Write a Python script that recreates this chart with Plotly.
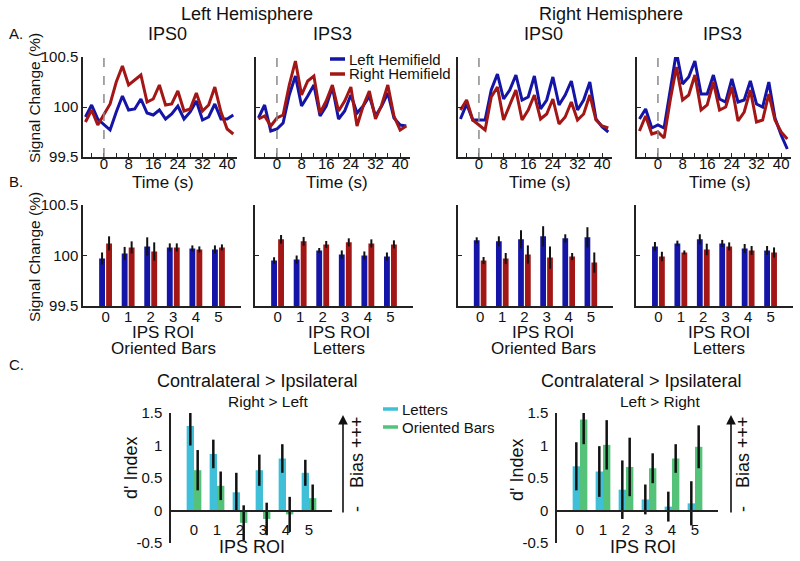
import plotly.graph_objects as go

# ---------------- data ----------------
time_s = [-6, -4, -2, 0, 2, 4, 6, 8, 10, 12, 14, 16, 18, 20, 22, 24, 26, 28, 30, 32, 34, 36, 38, 40, 42]
time_ticks = [-4, 0, 4, 8, 12, 16, 20, 24, 28, 32, 36, 40]
time_ticktext = ["", "0", "", "8", "", "16", "", "24", "", "32", "", "40"]

# Panel A: time courses (signal change %)
lh_ips0_left = [99.90, 100.02, 99.88, 99.82, 99.77, 99.95, 100.11, 99.97, 99.98, 100.08, 99.94, 99.92, 99.97,
                99.88, 99.93, 100.01, 99.88, 99.95, 100.06, 99.87, 99.90, 100.03, 99.88, 99.88, 99.92]
lh_ips0_right = [99.85, 99.97, 99.82, 99.93, 100.03, 100.25, 100.41, 100.22, 100.27, 100.32, 100.05, 100.08, 100.22,
                 100.02, 100.03, 100.16, 99.96, 99.98, 100.14, 99.96, 100.02, 100.20, 99.95, 99.78, 99.73]
lh_ips3_left = [99.89, 100.02, 99.76, 99.78, 99.84, 100.12, 100.31, 100.01, 100.11, 100.22, 99.91, 100.01, 100.20,
                99.88, 99.96, 100.12, 99.94, 100.01, 100.11, 99.91, 100.01, 100.14, 99.89, 99.82, 99.81]
lh_ips3_right = [99.88, 99.91, 99.81, 99.89, 99.92, 100.22, 100.46, 100.12, 100.26, 100.31, 99.94, 100.06, 100.22,
                 99.96, 100.06, 100.20, 99.81, 100.01, 100.16, 99.88, 100.02, 100.22, 99.91, 99.77, 99.81]
rh_ips0_left = [99.88, 100.03, 99.87, 99.87, 99.87, 100.17, 100.33, 100.08, 100.17, 100.32, 100.07, 100.10, 100.31,
                99.98, 100.07, 100.30, 100.02, 100.12, 100.26, 99.97, 100.07, 100.25, 99.88, 99.80, 99.75]
rh_ips0_right = [99.97, 100.07, 99.87, 99.82, 99.77, 100.10, 100.20, 99.87, 100.02, 100.17, 99.87, 99.97, 100.12,
                 99.88, 99.93, 100.08, 99.83, 99.90, 100.05, 99.87, 99.93, 100.12, 99.87, 99.81, 99.79]
rh_ips3_left = [99.88, 99.98, 99.79, 99.82, 99.79, 100.17, 100.55, 100.23, 100.30, 100.46, 100.13, 100.13, 100.32,
                100.08, 100.05, 100.28, 100.05, 100.07, 100.26, 100.03, 100.00, 100.25, 99.89, 99.72, 99.58]
rh_ips3_right = [99.76, 99.91, 99.73, 99.75, 99.69, 100.07, 100.40, 100.07, 100.12, 100.32, 99.97, 100.02, 100.25,
                 99.97, 100.00, 100.20, 99.86, 99.95, 100.17, 99.85, 99.87, 100.13, 99.87, 99.75, 99.68]

# Panel B: mean signal change per IPS ROI
roi = [0, 1, 2, 3, 4, 5]
lh_bars_left = [99.97, 100.02, 100.09, 100.08, 100.07, 100.06]
lh_bars_left_err = [0.06, 0.065, 0.09, 0.04, 0.03, 0.04]
lh_bars_right = [100.12, 100.08, 100.04, 100.08, 100.06, 100.08]
lh_bars_right_err = [0.07, 0.06, 0.09, 0.04, 0.03, 0.03]
lh_letters_left = [99.95, 99.96, 100.05, 100.01, 100.00, 99.99]
lh_letters_left_err = [0.033, 0.04, 0.024, 0.04, 0.04, 0.04]
lh_letters_right = [100.16, 100.14, 100.11, 100.13, 100.12, 100.11]
lh_letters_right_err = [0.043, 0.044, 0.034, 0.04, 0.04, 0.04]
rh_bars_left = [100.15, 100.14, 100.16, 100.19, 100.17, 100.18]
rh_bars_left_err = [0.03, 0.05, 0.09, 0.10, 0.04, 0.10]
rh_bars_right = [99.95, 99.97, 100.01, 99.98, 99.99, 99.93]
rh_bars_right_err = [0.035, 0.055, 0.09, 0.11, 0.035, 0.10]
rh_letters_left = [100.09, 100.12, 100.16, 100.12, 100.07, 100.05]
rh_letters_left_err = [0.044, 0.027, 0.05, 0.034, 0.044, 0.044]
rh_letters_right = [99.99, 100.03, 100.06, 100.09, 100.05, 100.03]
rh_letters_right_err = [0.047, 0.02, 0.057, 0.04, 0.044, 0.05]

# Panel C: d' index (contralateral > ipsilateral)
c_rl_letters = [1.30, 0.87, 0.28, 0.62, 0.80, 0.58]
c_rl_letters_err = [0.30, 0.22, 0.30, 0.24, 0.22, 0.20]
c_rl_bars = [0.62, 0.38, -0.19, -0.13, -0.06, 0.19]
c_rl_bars_err = [0.31, 0.22, 0.27, 0.25, 0.27, 0.21]
c_lr_letters = [0.68, 0.60, 0.32, 0.17, 0.06, 0.11]
c_lr_letters_err = [0.37, 0.39, 0.45, 0.23, 0.23, 0.34]
c_lr_bars = [1.40, 1.01, 0.67, 0.65, 0.80, 0.98]
c_lr_bars_err = [0.38, 0.38, 0.45, 0.23, 0.22, 0.33]

# ---------------- style ----------------
W, H = 800, 561
FONT = "Liberation Sans, Arial, Helvetica, sans-serif"
BLUE = "#1414a6"
RED = "#a31616"
CYAN = "#3fc0d8"
GREEN = "#55c27a"
AXC = "#222222"
TXT = "#111111"


def px(x):
    return x / W


def py(y):
    return 1 - y / H


fig = go.Figure()
layout = dict(
    width=W, height=H, margin=dict(l=0, r=0, t=0, b=0, pad=0, autoexpand=False),
    paper_bgcolor="white", plot_bgcolor="white", showlegend=False,
    font=dict(family=FONT, size=15, color=TXT),
)


def ax_name(i):
    return ("x" if i == 1 else f"x{i}"), ("y" if i == 1 else f"y{i}")


def key(prefix, i):
    return prefix if i == 1 else f"{prefix}{i}"


# ---------------- row A ----------------
a_x = [(83, 237), (256, 410), (458, 612), (637, 791)]
a_y = (57, 157)
a_data = [(lh_ips0_left, lh_ips0_right), (lh_ips3_left, lh_ips3_right),
          (rh_ips0_left, rh_ips0_right), (rh_ips3_left, rh_ips3_right)]
shapes = []
for k, (left, right) in enumerate(a_data):
    i = k + 1
    xa, ya = ax_name(i)
    fig.add_trace(go.Scatter(x=time_s, y=left, mode="lines", name="Left Hemifield",
                             line=dict(color=BLUE, width=3), xaxis=xa, yaxis=ya))
    fig.add_trace(go.Scatter(x=time_s, y=right, mode="lines", name="Right Hemifield",
                             line=dict(color=RED, width=3), xaxis=xa, yaxis=ya))
    layout[key("xaxis", i)] = dict(
        domain=[px(a_x[k][0]), px(a_x[k][1])], range=[-6.8, 43.2], anchor=ya, automargin=False,
        showline=True, linecolor=AXC, linewidth=1.5, ticks="inside", ticklen=4,
        tickcolor=AXC, tickvals=time_ticks, ticktext=time_ticktext, ticklabelstandoff=-8,
        showgrid=False, zeroline=False, tickfont=dict(size=15),
    )
    layout[key("yaxis", i)] = dict(
        domain=[py(a_y[1]), py(a_y[0])], range=[99.5, 100.5], anchor=xa, automargin=False,
        showline=True, linecolor=AXC, linewidth=1.5, ticks="inside", ticklen=4,
        tickcolor=AXC, tickvals=[99.5, 100, 100.5], ticktext=["99.5", "100", "100.5"],
        showticklabels=(i == 1), showgrid=False, zeroline=False, tickfont=dict(size=15),
    )
    shapes.append(dict(type="line", xref=xa, yref=f"{ya} domain", x0=0, x1=0, y0=0, y1=1,
                       line=dict(color="#8a8a8a", width=1.5, dash="dash")))

# ---------------- row B ----------------
b_x = [(83, 241), (255, 413), (458, 613), (636, 793)]
b_y = (205, 306)
b_data = [
    (lh_bars_left, lh_bars_left_err, lh_bars_right, lh_bars_right_err),
    (lh_letters_left, lh_letters_left_err, lh_letters_right, lh_letters_right_err),
    (rh_bars_left, rh_bars_left_err, rh_bars_right, rh_bars_right_err),
    (rh_letters_left, rh_letters_left_err, rh_letters_right, rh_letters_right_err),
]
for k, (bl, ble, br, bre) in enumerate(b_data):
    i = k + 5
    xa, ya = ax_name(i)
    fig.add_trace(go.Bar(x=roi, y=bl, width=0.26, offset=-0.285, marker=dict(color=BLUE, line=dict(width=0)),
                         error_y=dict(type="data", array=ble, color="#111", thickness=2, width=0),
                         xaxis=xa, yaxis=ya, name="Left Hemifield"))
    fig.add_trace(go.Bar(x=roi, y=br, width=0.26, offset=0.025, marker=dict(color=RED, line=dict(width=0)),
                         error_y=dict(type="data", array=bre, color="#111", thickness=2, width=0),
                         xaxis=xa, yaxis=ya, name="Right Hemifield"))
    layout[key("xaxis", i)] = dict(
        domain=[px(b_x[k][0]), px(b_x[k][1])], range=[-1, 6], anchor=ya, automargin=False,
        showline=True, linecolor=AXC, linewidth=1.5, ticks="", ticklabelstandoff=-4,
        tickvals=roi, showgrid=False, zeroline=False, tickfont=dict(size=15),
    )
    layout[key("yaxis", i)] = dict(
        domain=[py(b_y[1]), py(b_y[0])], range=[99.5, 100.5], anchor=xa, automargin=False,
        showline=True, linecolor=AXC, linewidth=1.5, ticks="inside", ticklen=4,
        tickcolor=AXC, tickvals=[99.5, 100, 100.5], ticktext=["99.5", "100", "100.5"],
        showticklabels=(i == 5), showgrid=False, zeroline=False, tickfont=dict(size=15),
    )

# ---------------- row C ----------------
c_x = [(171, 332), (557, 718)]
c_y = (413, 543)
c_data = [(c_rl_letters, c_rl_letters_err, c_rl_bars, c_rl_bars_err),
          (c_lr_letters, c_lr_letters_err, c_lr_bars, c_lr_bars_err)]
for k, (lt, lte, ob, obe) in enumerate(c_data):
    i = k + 9
    xa, ya = ax_name(i)
    fig.add_trace(go.Bar(x=roi, y=lt, width=0.32, offset=-0.32, marker=dict(color=CYAN, line=dict(width=0)),
                         error_y=dict(type="data", array=lte, color="#111", thickness=2.5, width=0),
                         xaxis=xa, yaxis=ya, name="Letters"))
    fig.add_trace(go.Bar(x=roi, y=ob, width=0.32, offset=0.0, marker=dict(color=GREEN, line=dict(width=0)),
                         error_y=dict(type="data", array=obe, color="#111", thickness=2.5, width=0),
                         xaxis=xa, yaxis=ya, name="Oriented Bars"))
    zero_pos = py(c_y[1]) + (py(c_y[0]) - py(c_y[1])) * 0.25
    layout[key("xaxis", i)] = dict(
        domain=[px(c_x[k][0]), px(c_x[k][1])], range=[-1, 6], anchor="free", position=zero_pos,
        automargin=False, showline=True, linecolor=AXC, linewidth=1.5, ticks="", ticklabelstandoff=6,
        tickvals=roi, showgrid=False, zeroline=False, tickfont=dict(size=15),
    )
    layout[key("yaxis", i)] = dict(
        domain=[py(c_y[1]), py(c_y[0])], range=[-0.5, 1.5], anchor=xa, automargin=False,
        showline=True, linecolor=AXC, linewidth=1.5, ticks="",
        tickvals=[-0.5, 0, 0.5, 1, 1.5], ticktext=["-0.5", "0", "0.5", "1", "1.5"],
        showgrid=False, zeroline=False, tickfont=dict(size=15), ticklabelstandoff=4,
    )

# ---------------- legends (drawn) ----------------
legend_items = [
    (330, 345, 59, BLUE, "Left Hemifield"),
    (330, 345, 74, RED, "Right Hemifield"),
    (383, 398, 409, CYAN, "Letters"),
    (383, 398, 427, GREEN, "Oriented Bars"),
]
annotations = []
for x0, x1, yy, col, label in legend_items:
    shapes.append(dict(type="line", xref="paper", yref="paper", x0=px(x0), x1=px(x1), y0=py(yy), y1=py(yy),
                       line=dict(color=col, width=3.5)))
    annotations.append(dict(text=label, x=px(x1 + 2), y=py(yy), xref="paper", yref="paper",
                            xanchor="left", yanchor="middle", showarrow=False, font=dict(size=15)))


def txt(s, x, y, size=17, angle=0, xanchor="center"):
    annotations.append(dict(text=s, x=px(x), y=py(y), xref="paper", yref="paper", xanchor=xanchor,
                            yanchor="middle", showarrow=False, textangle=angle, font=dict(size=size)))


# headings
txt("Left Hemisphere", 247, 14, 18)
txt("Right Hemisphere", 611, 14, 18)
txt("A.", 7, 33, 15, xanchor="left")
txt("B.", 7, 181, 15, xanchor="left")
txt("C.", 7, 364, 15, xanchor="left")
txt("IPS0", 167, 34, 18)
txt("IPS3", 332, 34, 18)
txt("IPS0", 543, 34, 18)
txt("IPS3", 722, 34, 18)
for xc in (163, 337, 540, 720):
    txt("Time (s)", xc, 182, 17)
txt("Signal Change (%)", 34, 98, 15.5, angle=-90)
txt("Signal Change (%)", 34, 257, 15.5, angle=-90)
for xc, lab in ((163, "Oriented Bars"), (339, "Letters"), (543, "Oriented Bars"), (719, "Letters")):
    txt("IPS ROI", xc, 332, 17)
    txt(lab, xc, 348, 17)

# row C texts
txt("Contralateral > Ipsilateral", 257, 381, 18)
txt("Right > Left", 268, 401, 15.5)
txt("Contralateral > Ipsilateral", 641, 381, 18)
txt("Left > Right", 660, 401, 15.5)
txt("d' Index", 131, 468, 18, angle=-90)
txt("d' Index", 517, 470, 18, angle=-90)
txt("IPS ROI", 252, 547, 18)
txt("IPS ROI", 643, 547, 18)
for ax_x, tx in ((343, 357), (731, 743)):
    annotations.append(dict(text="", x=px(ax_x), y=py(415), xref="paper", yref="paper",
                            ax=0, ay=99, axref="pixel", ayref="pixel", showarrow=True,
                            arrowhead=2, arrowsize=1.2, arrowwidth=1.6, arrowcolor="#111"))
    txt("Bias +++", tx, 452, 18, angle=-90)
    txt("-", tx, 509, 18, angle=-90)

layout["shapes"] = shapes
layout["annotations"] = annotations
fig.update_layout(**layout)
# the page's default body margin would offset and clip the fixed-size figure
fig.write_html("out.html", config={"displayModeBar": False},
               post_script="document.body.style.margin='0px';")
